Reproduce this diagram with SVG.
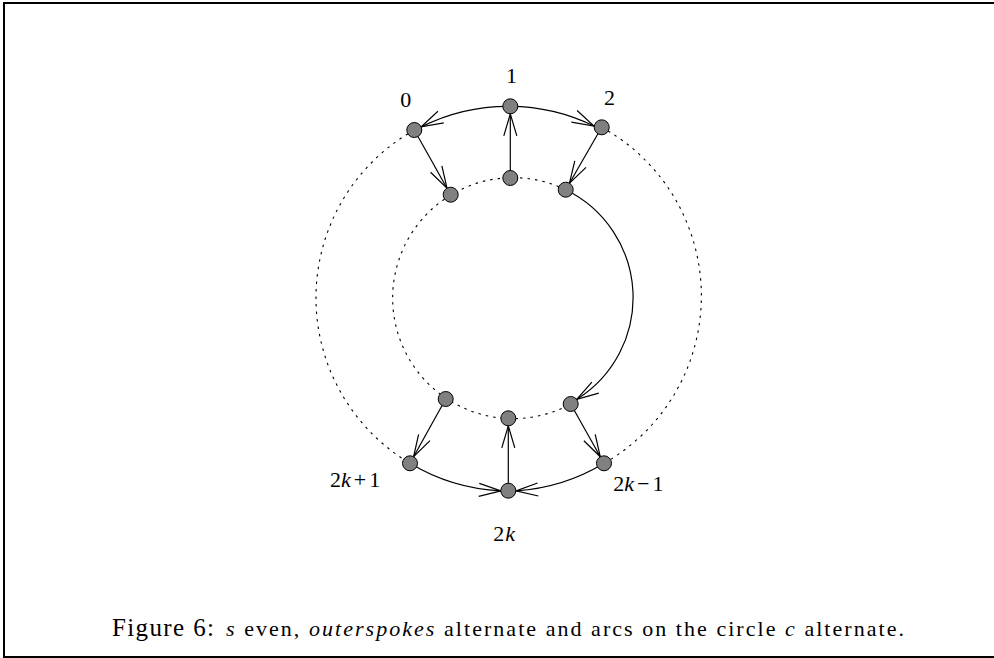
<svg xmlns="http://www.w3.org/2000/svg" width="994" height="658" viewBox="0 0 994 658">
<style>
.frame{fill:none;stroke:#000;stroke-width:2}
.dot{fill:none;stroke:#000;stroke-width:1.1;stroke-dasharray:2.5 5}
.edge{fill:none;stroke:#000;stroke-width:1.2;marker-end:url(#arr)}
.node{fill:#808080;stroke:#000;stroke-width:1}
.lbl{font-family:'Liberation Serif','DejaVu Serif',serif;font-size:22px;fill:#000}
.cap{font-family:'Liberation Serif','DejaVu Serif',serif;fill:#000}
.it{font-style:italic}
</style>
<defs>
<marker id="arr" markerUnits="userSpaceOnUse" markerWidth="30" markerHeight="20" viewBox="-25 -10 30 20" refX="0" refY="0" orient="auto" overflow="visible">
<path d="M-22,-6.5 L0,0 L-22,6.5" fill="none" stroke="#000" stroke-width="1.2"/>
</marker>
</defs>
<rect class="frame" x="4" y="3" width="1000" height="654"/>
<g id="circles">
<path class="dot" d="M414.3 130 A192.5 192.5 0 0 0 410 463.3"/>
<path class="dot" d="M601.7 127.3 A192.5 192.5 0 0 1 604 463.3"/>
<path class="dot" d="M565.7 189.7 A120.5 120.5 0 1 0 570.7 404"/>
</g>
<g id="connectors">
<path class="edge" d="M510.3 106.3 A192.5 192.5 0 0 0 421.2 126.9"/>
<path class="edge" d="M510.3 106.3 A192.5 192.5 0 0 1 594.0 126.0"/>
<path class="edge" d="M410 463.3 A192.5 192.5 0 0 0 501.0 490.85"/>
<path class="edge" d="M604 463.3 A192.5 192.5 0 0 1 516.0 490.85"/>
<path class="edge" d="M565.7 189.7 A120 120 0 0 1 576.7 399.3"/>
<path class="edge" d="M414.3 130 L447.0 188.2"/>
<path class="edge" d="M510.3 178 L510.3 113.8"/>
<path class="edge" d="M601.7 127.3 L569.45 183.2"/>
<path class="edge" d="M445.7 399 L413.6 456.7"/>
<path class="edge" d="M508.3 490.7 L508.3 425.8"/>
<path class="edge" d="M570.7 404 L600.3 456.8"/>
</g>
<g id="n0"><circle class="node" cx="414.3" cy="130" r="7.5"/><text class="lbl" x="405.7" y="106.7" text-anchor="middle">0</text></g>
<g id="n1"><circle class="node" cx="510.3" cy="106.3" r="7.5"/><text class="lbl" x="511.5" y="83" text-anchor="middle">1</text></g>
<g id="n2"><circle class="node" cx="601.7" cy="127.3" r="7.5"/><text class="lbl" x="609.5" y="105" text-anchor="middle">2</text></g>
<g id="n2kp1"><circle class="node" cx="410" cy="463.3" r="7.5"/><text class="lbl" x="330" y="487.3">2<tspan class="it">k</tspan><tspan dx="3">+</tspan><tspan dx="3">1</tspan></text></g>
<g id="n2k"><circle class="node" cx="508.3" cy="490.7" r="7.5"/><text class="lbl" x="493.3" y="540.5">2<tspan class="it" dx="1">k</tspan></text></g>
<g id="n2km1"><circle class="node" cx="604" cy="463.3" r="7.5"/><text class="lbl" x="613.3" y="491.3">2<tspan class="it">k</tspan><tspan dx="3">−</tspan><tspan dx="3">1</tspan></text></g>
<g id="i0"><circle class="node" cx="450.7" cy="194.7" r="7.5"/></g>
<g id="i1"><circle class="node" cx="510.3" cy="178" r="7.5"/></g>
<g id="i2"><circle class="node" cx="565.7" cy="189.7" r="7.5"/></g>
<g id="i2kp1"><circle class="node" cx="445.7" cy="399" r="7.5"/></g>
<g id="i2k"><circle class="node" cx="508.3" cy="418.3" r="7.5"/></g>
<g id="i2km1"><circle class="node" cx="570.7" cy="404" r="7.5"/></g>
<g id="caption">
<text class="cap" x="112" y="636" font-size="25" textLength="102" lengthAdjust="spacing">Figure 6:</text>
<text class="cap" x="226" y="636" font-size="22" textLength="678" lengthAdjust="spacing"><tspan class="it">s</tspan> even, <tspan class="it">outerspokes</tspan> alternate and arcs on the circle <tspan class="it">c</tspan> alternate.</text>
</g>
</svg>
